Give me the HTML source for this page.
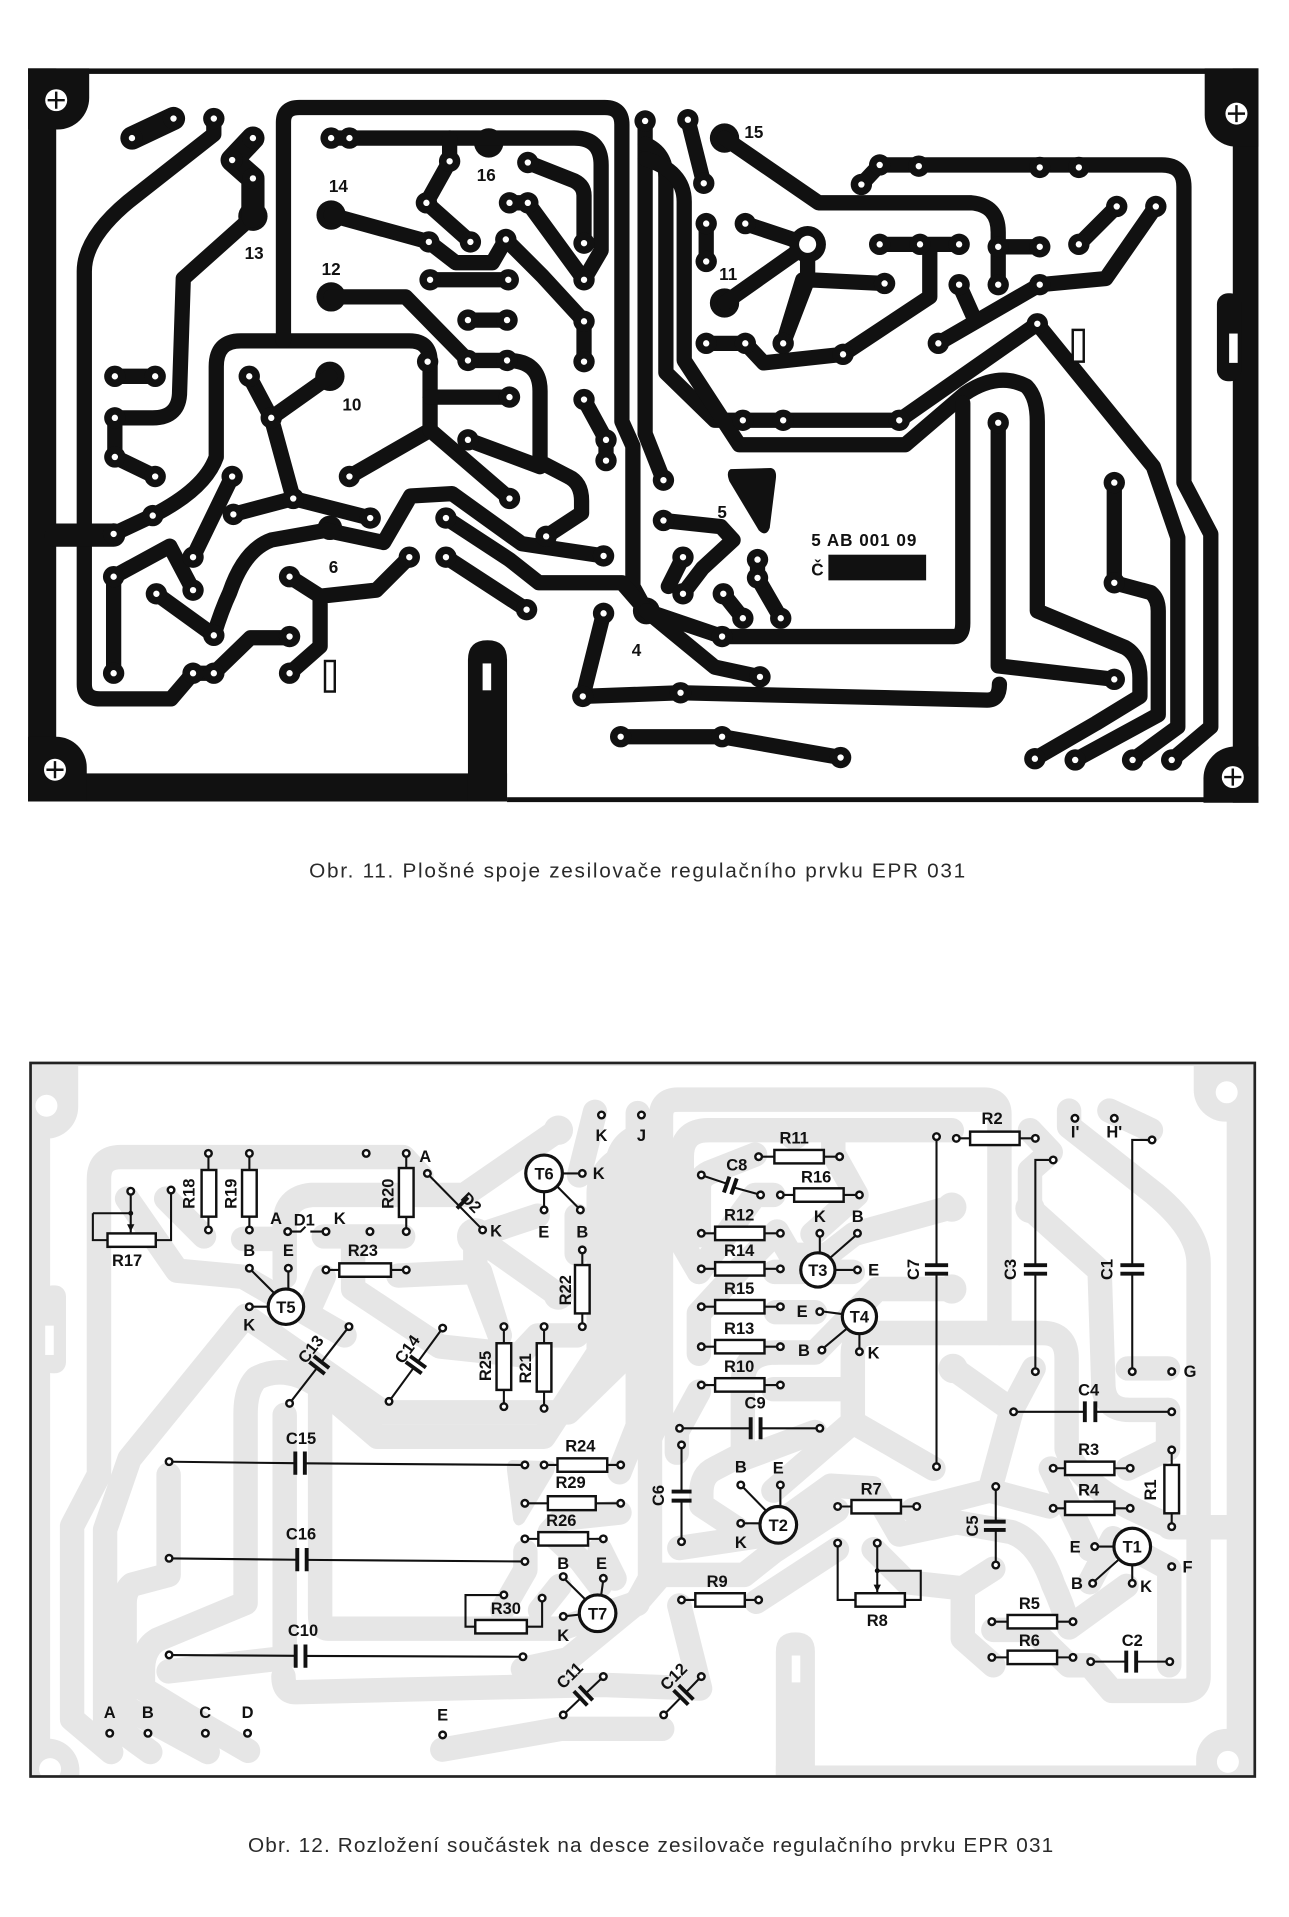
<!DOCTYPE html>
<html><head><meta charset="utf-8"><style>
body{margin:0;background:#fff}
svg{display:block}
.lb{font-family:"Liberation Sans Narrow","Liberation Sans",sans-serif;font-weight:bold;font-size:13.5px;fill:#111;text-anchor:middle}
.tl{font-family:"Liberation Sans Narrow","Liberation Sans",sans-serif;font-weight:bold;font-size:14px;fill:#111;text-anchor:middle}
.cap{font-family:"Liberation Sans","DejaVu Sans",sans-serif;font-size:17px;fill:#2a2a2a}
.w{fill:none;stroke:#111;stroke-width:1.7}
.b{fill:#fff;stroke:#111;stroke-width:2}
.cp{fill:none;stroke:#111;stroke-width:3.2}
.t{fill:#fff;stroke:#111;stroke-width:2.6}
</style></head><body>
<svg width="1289" height="1917" viewBox="0 0 1055 1569" xmlns="http://www.w3.org/2000/svg">
<defs>
<clipPath id="cb"><rect x="26" y="871" width="1000" height="582"/></clipPath>
<g id="frm">
<rect x="23" y="56" width="1007" height="4.5"/>
<rect x="23" y="56" width="23" height="600"/>
<rect x="23" y="633" width="392" height="23"/>
<path d="M383,656 V540 Q383,524 399,524 Q415,524 415,540 V656 Z"/>
<rect x="415" y="652.5" width="615" height="4"/>
<rect x="1009" y="56" width="21" height="601"/>
<rect x="996" y="240" width="20" height="72" rx="9"/>
<path d="M23,56 H73 V80 A26,26 0 0 1 47,106 H23 Z"/>
<path d="M986,56 H1030 V120 H1012 A26,26 0 0 1 986,94 Z"/>
<path d="M23,603 H46 A25,25 0 0 1 71,628 V656 H23 Z"/>
<path d="M1030,611 H1011 A26,26 0 0 0 985,637 V657 H1030 Z"/>
<circle cx="46" cy="82" r="9" fill="#fff"/>
<circle cx="1012" cy="93" r="9" fill="#fff"/>
<circle cx="45" cy="630" r="9" fill="#fff"/>
<circle cx="1009" cy="636" r="9" fill="#fff"/>
<rect x="395" y="543" width="7" height="22" fill="#fff"/>
<rect x="1006" y="273" width="7" height="24" fill="#fff"/>
</g>
<g id="blb">
<circle cx="207" cy="177" r="12"/><circle cx="271" cy="176" r="12"/><circle cx="271" cy="243" r="12"/>
<circle cx="400" cy="117" r="12"/><circle cx="270" cy="308" r="12"/><circle cx="593" cy="113" r="12"/>
<circle cx="593" cy="248" r="12"/><circle cx="529" cy="500" r="11"/><circle cx="270" cy="432" r="10"/>
<circle cx="661" cy="200" r="15"/>
<path d="M598,384 L631,383 Q636,384 635,392 L630,432 Q627,440 621,434 L597,394 Q594,386 598,384 Z"/>
</g>
<g id="trc" fill="none">
<path d="M175,97 L175,110 L105,165 Q69,195 69,222 V560 Q69,572 82,572 H140 L158,551 H175 L205,522 H237"/>
<path d="M207,177 L150,228 L147,320 Q147,342 125,342 H94"/>
<path d="M94,308 H127"/>
<path d="M94,342 V374 L127,390"/>
<path d="M93,437 L125,422 Q168,400 177,374 V300 Q177,279 197,279 H335 Q352,279 352,296 V352 L286,390"/>
<path d="M352,352 L417,408"/>
<path d="M352,325 H417"/>
<path d="M232,279 V100 Q232,88 245,88 H495 Q509,88 509,102 V345 L518,365 V480 L529,500"/>
<path d="M204,308 L222,342 L270,308 M222,342 L240,408 L191,421 M240,408 L303,424 M190,390 L158,456"/>
<path d="M93,472 V551 M93,472 L139,447 L158,483"/>
<path d="M128,486 L175,520 Q181,500 188,485 Q200,450 222,442 L267,434 L314,444 L336,406 L370,404 L427,445 L494,455"/>
<path d="M237,472 L262,488 V529 L237,551 M262,488 L308,483 L335,456"/>
<path d="M365,424 L417,458 L441,477 H509 L529,500"/>
<path d="M365,456 L431,499"/>
<path d="M415,295 Q442,295 442,320 V378 L465,390 Q476,395 476,410 V420 L447,439 M383,360 L442,382"/>
<path d="M352,229 H416 M383,262 H415"/>
<path d="M271,243 H332 L383,295 H415"/>
<path d="M271,176 L351,198 L373,215 H403 L414,196"/>
<path d="M271,113 H470 Q492,113 492,135 V205 L478,229"/>
<path d="M368,113 V132 L349,166 L385,198"/>
<path d="M432,133 L470,148 Q478,152 478,160 V199"/>
<path d="M417,166 H432 L478,229"/>
<path d="M414,196 L444,226 L478,263 V296"/>
<path d="M478,327 L496,360 V377"/>
<path d="M528,99 V355 L543,393"/>
<path d="M528,118 Q545,125 545,145 V305 L585,344 H736 L849,265 L944,382 L964,440 V595 L927,622"/>
<path d="M528,130 Q560,140 560,165 V295 L605,364 H741 L790,322 Q817,304 840,316 Q849,325 849,345 V500 L921,530 Q933,537 933,555 V570 L897,592 L847,621"/>
<path d="M591,521 H781 Q788,521 788,510 V330"/>
<path d="M494,502 L477,570 L557,567 L808,573 Q818,573 818,560"/>
<path d="M817,346 V545 L912,556"/>
<path d="M529,500 L591,521 M529,500 L585,546 L622,554"/>
<path d="M508,603 H591 L688,620"/>
<path d="M543,426 L590,431 L600,442 L575,465 L559,486 M559,456 L547,480"/>
<path d="M620,458 V473 L639,506 M592,486 L608,506"/>
<path d="M563,98 L576,150"/>
<path d="M593,113 L670,166 H795 Q817,168 817,190 V233 M817,202 H851"/>
<path d="M946,169 L905,228 L851,233 L768,281 M785,233 L798,262 M883,200 L914,169"/>
<path d="M720,200 H785 M761,200 V243 L690,290 L625,297 L610,281 H578 M641,281 L657,229 L661,229"/>
<path d="M610,183 L661,200 L593,248 M661,200 V229 L724,232 M661,229 L641,281"/>
<path d="M578,183 V214"/>
<path d="M705,151 L720,135 H951 Q969,135 969,153 V395 L991,437 V595 L959,622"/>
<path d="M912,395 V477 L942,485 Q948,490 948,500 V585 L880,622"/>
</g>
<g id="trw" fill="none">
<path d="M108,113 L142,97"/>
<path d="M207,113 L190,131 L207,146 L207,177"/>
<path d="M46,438 H93"/>
</g>
<path id="pd" d="M108,113h0M142,97h0M175,97h0M207,113h0M190,131h0M207,146h0M94,308h0M127,308h0M94,342h0M94,374h0M127,390h0M93,437h0M125,422h0M204,308h0M222,342h0M240,408h0M191,421h0M303,424h0M190,390h0M158,456h0M286,390h0M93,472h0M93,551h0M158,483h0M128,486h0M175,520h0M237,472h0M237,551h0M335,456h0M158,551h0M175,551h0M237,521h0M350,296h0M417,325h0M417,408h0M365,424h0M365,456h0M431,499h0M447,439h0M383,360h0M494,455h0M271,113h0M286,113h0M368,132h0M349,166h0M385,198h0M351,198h0M414,196h0M417,166h0M432,166h0M432,133h0M478,199h0M352,229h0M416,229h0M383,262h0M415,262h0M383,295h0M415,295h0M478,229h0M478,263h0M478,296h0M478,327h0M496,360h0M496,377h0M528,99h0M543,393h0M494,502h0M477,570h0M557,567h0M508,603h0M591,603h0M591,521h0M622,554h0M543,426h0M559,456h0M559,486h0M620,458h0M620,473h0M639,506h0M592,486h0M608,506h0M563,98h0M576,150h0M578,183h0M578,214h0M610,183h0M578,281h0M610,281h0M641,281h0M690,290h0M724,232h0M720,200h0M753,200h0M785,200h0M705,151h0M720,135h0M752,136h0M851,137h0M883,137h0M817,202h0M851,202h0M817,233h0M851,233h0M785,233h0M768,281h0M883,200h0M914,169h0M946,169h0M608,344h0M641,344h0M736,344h0M849,265h0M817,346h0M912,556h0M912,477h0M912,395h0M847,621h0M880,622h0M927,622h0M959,622h0M688,620h0"/>
<path id="bp" d="M107,975h0M140,974h0M170.6,944h0M170.6,1006.7h0M204.1,944h0M204.1,1006.7h0M235.5,1008h0M266.8,1008h0M302.8,1008h0M204.1,1038h0M236,1038h0M204.1,1069.5h0M266.8,1039.4h0M332.5,1039.4h0M299.7,944h0M332.5,944h0M332.5,1008h0M349.8,960.4h0M395,1006.7h0M476.6,960.4h0M445.3,990.3h0M475,990.3h0M492.3,912.6h0M525,912.6h0M476.6,1023h0M476.6,1085.8h0M237,1148.6h0M285.6,1085.8h0M318.4,1147h0M362.3,1087h0M412.4,1085.8h0M412.4,1151.3h0M445.3,1085.8h0M445.3,1152.7h0M782.7,931.7h0M847.4,931.7h0M766.5,930.3h0M766.5,1200.4h0M879.8,915.3h0M912,915.3h0M942.9,933h0M926.7,1122.6h0M862,949.4h0M847.4,1122.6h0M959,1122.6h0M829.6,1155.5h0M959,1155.5h0M620.9,946.7h0M687.2,946.7h0M574,961.7h0M622.5,978h0M638.7,978h0M703.4,978h0M574,1009.4h0M638.7,1009.4h0M574,1038.5h0M638.7,1038.5h0M574,1069.5h0M638.7,1069.5h0M574,1102.2h0M638.7,1102.2h0M574,1133.6h0M638.7,1133.6h0M671,1009.4h0M701.8,1009.4h0M701.8,1039.4h0M671,1073.5h0M672.7,1105h0M703.4,1106.3h0M556.2,1169h0M671,1169h0M557.8,1182.6h0M557.8,1261.8h0M606.3,1215.4h0M638.7,1215.4h0M606.3,1246.8h0M685.6,1233h0M750.3,1233h0M685.6,1263h0M718,1263h0M815,1216.7h0M815,1280.9h0M862,1201.7h0M925,1201.7h0M862,1234.5h0M925,1234.5h0M959,1186.7h0M959,1249.5h0M896,1265.8h0M894.3,1295.9h0M926.7,1295.9h0M959,1282.2h0M811.8,1327.3h0M878.2,1327.3h0M811.8,1356.5h0M878.2,1356.5h0M892.7,1360h0M957.4,1360h0M557.8,1309.5h0M620.9,1309.5h0M543.2,1403.6h0M574,1372.2h0M461,1403.6h0M493.8,1372.2h0M138.4,1196.3h0M429.6,1199h0M138.4,1275.4h0M429.6,1278h0M138.4,1354.5h0M428,1356h0M445.3,1199h0M508,1199h0M429.6,1230.4h0M508,1230.4h0M429.6,1259.5h0M493.8,1259.5h0M461,1290.4h0M493.8,1291.8h0M461,1323h0M412.4,1305.4h0M443.7,1308h0M89.8,1418.6h0M121.1,1418.6h0M168.1,1418.6h0M202.6,1418.6h0M362.3,1420h0"/>
</defs>

<rect width="1055" height="1569" fill="#fff"/>

<!-- ===== TOP BOARD ===== -->
<g fill="#111"><use href="#frm"/><use href="#blb"/></g>
<g fill="none" stroke="#111" stroke-width="12.5" stroke-linecap="round" stroke-linejoin="round"><use href="#trc"/></g>
<g fill="none" stroke="#111" stroke-width="19" stroke-linecap="round" stroke-linejoin="round"><use href="#trw"/></g>
<use href="#pd" fill="none" stroke="#111" stroke-width="17.5" stroke-linecap="round"/>
<use href="#pd" fill="none" stroke="#fff" stroke-width="5.2" stroke-linecap="round"/>
<circle cx="661" cy="200" r="7" fill="#fff"/>
<g stroke="#111" stroke-width="2">
<path d="M46,75 V89 M39,82 H53 M1012,86 V100 M1005,93 H1019 M45,623 V637 M38,630 H52 M1009,629 V643 M1002,636 H1016"/>
</g>
<rect x="266" y="541" width="8" height="25" fill="#fff" stroke="#111" stroke-width="2"/>
<rect x="878" y="270" width="9" height="26" fill="#fff" stroke="#111" stroke-width="2"/>
<rect x="678" y="454" width="80" height="21" fill="#111"/>
<g class="tl">
<text x="208" y="212">13</text><text x="277" y="157">14</text><text x="271" y="225">12</text>
<text x="398" y="148">16</text><text x="288" y="336">10</text><text x="273" y="469">6</text>
<text x="591" y="424">5</text><text x="521" y="537">4</text><text x="596" y="229">11</text>
<text x="617" y="113">15</text>
</g>
<text class="tl" x="664" y="447" textLength="86" style="text-anchor:start">5 AB 001 09</text>
<text class="tl" x="664" y="471" style="text-anchor:start">Č</text>

<text class="cap" x="253" y="718" textLength="537">Obr. 11. Plošné spoje zesilovače regulačního prvku EPR 031</text>

<!-- ===== BOTTOM BOARD ===== -->
<g clip-path="url(#cb)">
<g transform="translate(1050,812) scale(-1,1)">
<g fill="#e6e6e6"><use href="#frm"/><use href="#blb"/></g>
<g fill="none" stroke="#e6e6e6" stroke-width="20" stroke-linecap="round" stroke-linejoin="round"><use href="#trc"/><use href="#trw"/></g>
</g>
</g>
<rect x="25" y="870" width="1002" height="584" fill="none" stroke="#222" stroke-width="2.2"/>

<path class="w" d="M107,978 V1009.5 M76,993 H107 M76,993 V1015 H88 M140,977 V1015 H127.5
M170.6,947 V957.6 M170.6,995.8 V1003.5 M204.1,947 V957.6 M204.1,995.8 V1003.5
M238.8,1008 H246 L250,1004 M254,1008 H263.5
M206.4,1040.4 L224,1058 M236,1041.3 V1055 M207.4,1069.5 H219.5
M270,1039.4 H277.7 M320,1039.4 H329.2
M332.5,947.3 V956 M332.5,996 V1004.7
M352,962.8 L393,1004.5
M460.3,960.4 H473.3 M445.3,975.4 V987 M456,971 L472.6,987.8
M476.6,1026.3 V1035.4 M476.6,1075 V1082.5
M239,1146 L259.5,1119.6 M263.1,1114.8 L283.5,1088.5
M320.4,1144.3 L338.6,1119.4 M342.1,1114.6 L360.3,1089.7
M412.4,1089 V1099.4 M412.4,1137.6 V1148 M445.3,1089 V1099.4 M445.3,1139 V1149.4
M786,931.7 H794 M834.5,931.7 H844
M766.5,933.6 V1035.5 M766.5,1042.5 V1197
M939.6,933 H926.7 V1035.5 M926.7,1042.5 V1119.3
M858.7,949.4 H847.4 V1035.5 M847.4,1042.5 V1119.3
M833,1155.5 H887.9 M896.5,1155.5 H955.7
M624.2,946.7 H633.8 M674.3,946.7 H683.9
M577,962.8 L594,968.5 M601,972 L619.3,977
M642,978 H650 M690.5,978 H700
M577.3,1009.4 H585.3 M625.7,1009.4 H635.4
M577.3,1038.5 H585.3 M625.7,1038.5 H635.4
M577.3,1069.5 H585.3 M625.7,1069.5 H635.4
M577.3,1102.2 H585.3 M625.7,1102.2 H635.4
M577.3,1133.6 H585.3 M625.7,1133.6 H635.4
M671,1012.7 V1025.4 M699.5,1012 L680,1029 M698.5,1039.4 H683.4
M674.3,1073.5 L689.4,1075.5 M675,1102.5 L693,1087.5 M703.4,1103 V1091.6
M559.5,1169 H614.4 M622.5,1169 H667.7
M557.8,1186 V1220.8 M557.8,1228.2 V1258.5
M608.6,1217.7 L627,1236.5 M638.7,1218.7 V1233 M609.6,1246.8 H622
M689,1233 H696.9 M737.4,1233 H747
M685.6,1266.3 V1309.5 H700.2 M718,1266.3 V1303 M718,1285.6 H753.6 V1309.5 H740.6
M815,1220 V1245.4 M815,1252.2 V1277.6
M865.3,1201.7 H871.7 M912.1,1201.7 H921.7 M865.3,1234.5 H871.7 M912.1,1234.5 H921.7
M959,1190 V1199 M959,1238.6 V1246.2
M899.3,1265.8 H911.7 M896.6,1293.5 L915,1277 M926.7,1292.6 V1280.8
M815,1327.3 H824.7 M865.2,1327.3 H875 M815,1356.5 H824.7 M865.2,1356.5 H875
M896,1360 H921.8 M929.9,1360 H954
M561,1309.5 H569.1 M609.6,1309.5 H617.6
M545.5,1401.3 L557.3,1389.3 M561.5,1385.1 L571.7,1374.5
M463.3,1401.3 L475.2,1390 M479.6,1385.8 L491.5,1374.5
M141.7,1196.4 L241.7,1197.6 M249.5,1197.7 L426.3,1199
M141.7,1275.5 L243.3,1276.6 M251,1276.7 L426.3,1278
M141.7,1354.6 L242,1355.2 M250,1355.3 L424.7,1356
M448.6,1199 H456.3 M497,1199 H504.7
M433,1230.4 H448.4 M487.6,1230.4 H504.7
M433,1259.5 H440.6 M481.3,1259.5 H490.5
M463,1293.2 L479,1309 M493.5,1295 L492,1305.8 M464.3,1322.6 L474.2,1321.5
M409,1305.5 H381 V1331.4 H389 M443.7,1311.3 V1331.4 H431.2"/>
<circle cx="107" cy="993" r="2" fill="#111"/><circle cx="718" cy="1285.6" r="2" fill="#111"/>
<path d="M104,1002 L107,1008 L110,1002 Z M715,1297 L718,1303 L721,1297 Z" fill="#111"/>

<g class="b">
<rect x="88" y="1009.5" width="39.5" height="11"/>
<rect x="165" y="957.6" width="12" height="38.2"/>
<rect x="198.1" y="957.6" width="12" height="38.2"/>
<rect x="277.7" y="1034" width="42.3" height="11"/>
<rect x="326.5" y="956" width="12" height="40"/>
<rect x="470.6" y="1035.4" width="12" height="39.6"/>
<rect x="406.4" y="1099.4" width="12" height="38.2"/>
<rect x="439.3" y="1099.4" width="12" height="39.6"/>
<rect x="794" y="926.2" width="40.5" height="11"/>
<rect x="633.8" y="941.2" width="40.5" height="11"/>
<rect x="650" y="972.6" width="40.5" height="11"/>
<rect x="585.3" y="1004" width="40.4" height="11"/>
<rect x="585.3" y="1033" width="40.4" height="11"/>
<rect x="585.3" y="1064" width="40.4" height="11"/>
<rect x="585.3" y="1096.7" width="40.4" height="11"/>
<rect x="585.3" y="1128" width="40.4" height="11"/>
<rect x="696.9" y="1227.7" width="40.5" height="11"/>
<rect x="700.2" y="1304" width="40.4" height="11"/>
<rect x="871.7" y="1196.3" width="40.4" height="11"/>
<rect x="871.7" y="1229" width="40.4" height="11"/>
<rect x="953" y="1199" width="12" height="39.6"/>
<rect x="824.7" y="1321.8" width="40.5" height="11"/>
<rect x="824.7" y="1351" width="40.5" height="11"/>
<rect x="569.1" y="1304" width="40.5" height="11"/>
<rect x="456.3" y="1193.6" width="40.7" height="11"/>
<rect x="448.4" y="1224.6" width="39.2" height="11.4"/>
<rect x="440.6" y="1254" width="40.7" height="11"/>
<rect x="389" y="1325.9" width="42.2" height="11"/>
</g>

<path class="cp" d="M253.2,1114.7 L265.8,1124.5 M256.8,1109.9 L269.4,1119.7
M332.1,1114.7 L345.1,1124.1 M335.6,1109.9 L348.6,1119.3
M757,1035.5 H776 M757,1042.5 H776 M917,1035.5 H936.5 M917,1042.5 H936.5 M838,1035.5 H857 M838,1042.5 H857
M887.9,1147 V1164 M896.5,1147 V1164
M592.5,976 L597,963 M598.5,977.5 L603,964.5
M614.4,1160 V1178 M622.5,1160 V1178
M549.7,1220.8 H566 M549.7,1228.2 H566
M805.3,1245.4 H823.1 M805.3,1252.2 H823.1
M921.8,1351 V1369 M929.9,1351 V1369
M551.3,1383.4 L563.3,1395.2 M555.5,1379.2 L567.5,1391
M469.7,1384.2 L480.7,1395.8 M474.1,1380 L485.1,1391.6
M241.7,1188 V1207 M249.5,1188 V1207 M243.3,1267 V1286 M251,1267 V1286 M242,1346 V1365 M250,1346 V1365
M374,989 L383,980"/>

<g class="t">
<circle cx="234" cy="1069.5" r="14.5"/><circle cx="445.3" cy="960.4" r="15"/>
<circle cx="669.4" cy="1039.4" r="14"/><circle cx="703.4" cy="1077.6" r="14"/>
<circle cx="637" cy="1248" r="15"/><circle cx="926.7" cy="1265.8" r="15"/>
<circle cx="489.1" cy="1320.4" r="15"/>
</g>

<use href="#bp" fill="none" stroke="#111" stroke-width="7.4" stroke-linecap="round"/>
<use href="#bp" fill="none" stroke="#fff" stroke-width="3.4" stroke-linecap="round"/>

<g class="lb">
<text x="104" y="1036">R17</text>
<text transform="translate(154,977) rotate(-90)" y="5">R18</text>
<text transform="translate(188.5,977) rotate(-90)" y="5">R19</text>
<text x="226" y="1002">A</text><text x="249" y="1003">D1</text><text x="278" y="1002">K</text>
<text x="204" y="1028">B</text><text x="236" y="1028">E</text><text x="204" y="1089">K</text>
<text x="234" y="1074.5">T5</text>
<text x="297" y="1028">R23</text>
<text transform="translate(317,977) rotate(-90)" y="5">R20</text>
<text x="348" y="951">A</text>
<text transform="translate(386,984) rotate(45)" y="5">D2</text>
<text x="406" y="1012">K</text>
<text x="445.3" y="965.4">T6</text><text x="490" y="965">K</text>
<text x="445" y="1013">E</text><text x="476.6" y="1013">B</text>
<text x="492.3" y="934">K</text><text x="525" y="934">J</text>
<text transform="translate(462.5,1056) rotate(-90)" y="5">R22</text>
<text transform="translate(254,1104) rotate(-52)" y="5">C13</text>
<text transform="translate(333,1104) rotate(-54)" y="5">C14</text>
<text transform="translate(396.8,1118) rotate(-90)" y="5">R25</text>
<text transform="translate(429.6,1120) rotate(-90)" y="5">R21</text>
<text x="812" y="920">R2</text><text x="880" y="931">I'</text><text x="912" y="931">H'</text>
<text transform="translate(747,1039) rotate(-90)" y="5">C7</text>
<text transform="translate(826.4,1039) rotate(-90)" y="5">C3</text>
<text transform="translate(905.6,1039) rotate(-90)" y="5">C1</text>
<text x="974" y="1127">G</text><text x="891" y="1142">C4</text>
<text x="650" y="936">R11</text><text x="603" y="958">C8</text><text x="668" y="968">R16</text>
<text x="605" y="999">R12</text><text x="605" y="1028">R14</text><text x="605" y="1059">R15</text>
<text x="605" y="1092">R13</text><text x="605" y="1123">R10</text>
<text x="671" y="1000">K</text><text x="702" y="1000">B</text><text x="715" y="1044">E</text>
<text x="669.4" y="1044.4">T3</text>
<text x="656.5" y="1078">E</text><text x="703.4" y="1082.6">T4</text>
<text x="658" y="1110">B</text><text x="715" y="1112">K</text>
<text x="618" y="1153">C9</text>
<text transform="translate(538.4,1224) rotate(-90)" y="5">C6</text>
<text x="606.3" y="1205">B</text><text x="637" y="1206">E</text><text x="606.3" y="1267">K</text>
<text x="637" y="1253">T2</text>
<text x="713" y="1223">R7</text><text x="718" y="1331">R8</text>
<text transform="translate(795.6,1249) rotate(-90)" y="5">C5</text>
<text x="891" y="1191">R3</text><text x="891" y="1224">R4</text>
<text transform="translate(941.2,1219.5) rotate(-90)" y="5">R1</text>
<text x="880" y="1270.5">E</text><text x="926.7" y="1270.8">T1</text>
<text x="881.4" y="1300.5">B</text><text x="938" y="1303">K</text><text x="972" y="1287">F</text>
<text x="842.5" y="1317">R5</text><text x="842.5" y="1347">R6</text><text x="926.7" y="1347">C2</text>
<text x="587" y="1299">R9</text>
<text transform="translate(551,1372) rotate(-45)" y="5">C12</text>
<text transform="translate(466,1371) rotate(-45)" y="5">C11</text>
<text x="246.4" y="1182">C15</text><text x="246.4" y="1260">C16</text><text x="248" y="1339">C10</text>
<text x="475" y="1188">R24</text><text x="467" y="1218">R29</text><text x="459.4" y="1249">R26</text>
<text x="461" y="1284">B</text><text x="492.3" y="1284">E</text>
<text x="489.1" y="1325.4">T7</text><text x="461" y="1343">K</text>
<text x="414" y="1321">R30</text>
<text x="89.8" y="1406">A</text><text x="121" y="1406">B</text><text x="168" y="1406">C</text>
<text x="202.6" y="1406">D</text><text x="362.3" y="1408">E</text>
</g>

<text class="cap" x="203" y="1516" textLength="659">Obr. 12. Rozložení součástek na desce zesilovače regulačního prvku EPR 031</text>
</svg>
</body></html>
